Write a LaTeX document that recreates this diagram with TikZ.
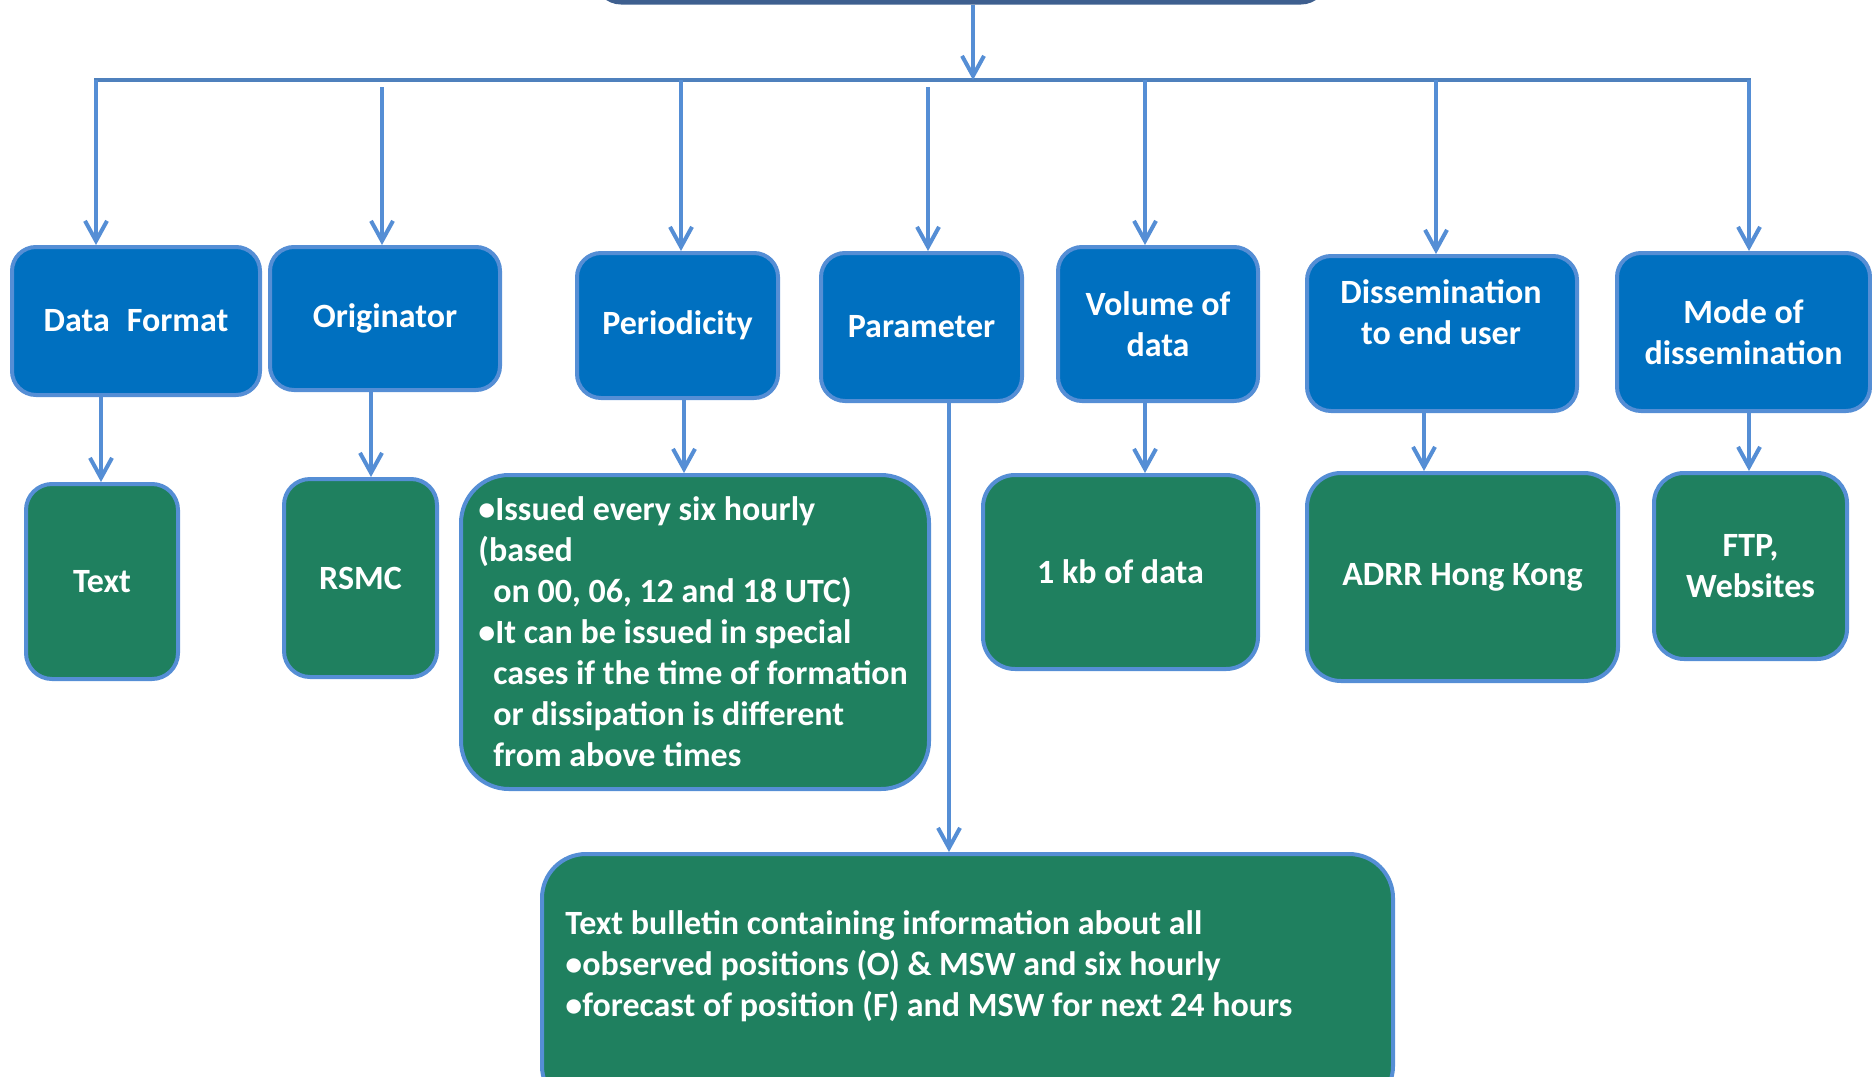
\documentclass[tikz,border=0pt]{standalone}
\usepackage{fontspec}
\setmainfont{Carlito}
\usetikzlibrary{arrows.meta}
\definecolor{boxblue}{HTML}{0070C0}
\definecolor{edgeblue}{HTML}{558ED5}
\definecolor{boxgreen}{HTML}{1F805F}
\definecolor{busblue}{HTML}{4F81BD}
\definecolor{topedge}{HTML}{3E5F8F}
\begin{document}
\begin{tikzpicture}[x=0.5pt,y=-0.5pt,
  bbox/.style={draw=edgeblue, line width=2pt, fill=boxblue, rounded corners=12pt, inner sep=0pt,
    text=white, font=\bfseries\fontsize{17pt}{20.5pt}\selectfont, align=center},
  gbox/.style={draw=edgeblue, line width=2pt, fill=boxgreen, rounded corners=#1, inner sep=0pt,
    text=white, font=\bfseries\fontsize{17pt}{20.5pt}\selectfont, align=center},
  gbox/.default=13pt,
  wtxt/.style={inner sep=0pt, text=white, font=\bfseries\fontsize{17pt}{20.5pt}\selectfont},
  arr/.style={draw=edgeblue, line width=2pt, -{Straight Barb[length=10pt,width=11pt]}},
  busline/.style={draw=busblue, line width=2.3pt, line cap=rect}
]
\path[use as bounding box, clip] (0,0) rectangle (1872,1076);

% top (cut) box
\node[draw=topedge, fill=boxblue, line width=2.5pt, rounded corners=12pt, minimum width=364pt, minimum height=60pt, inner sep=0pt] (top) at (961,-58) {};

% bus
\coordinate (b1) at (96,80);
\coordinate (b2) at (382,87);
\coordinate (b3) at (681,80);
\coordinate (b4) at (928,87);
\coordinate (b5) at (1145,80);
\coordinate (b6) at (1436,80);
\coordinate (b7) at (1749,80);
\coordinate (bc) at (973,80);
\draw[busline] (b1) -- (b7);

% first level boxes
\node[bbox, minimum width=124pt, minimum height=74pt] (df) at (136,321) {Data\hspace{0.5em}Format};
\node[bbox, minimum width=115pt, minimum height=71.5pt] (orig) at (385,318.5) {Originator};
\node[bbox, minimum width=100.5pt, minimum height=72.5pt] (per) at (677.5,325.5) {Periodicity};
\node[bbox, minimum width=100.5pt, minimum height=74pt] (par) at (921.5,327) {Parameter};
\node[bbox, minimum width=100pt, minimum height=77pt] (vol) at (1158,324) {Volume of\\data};
\node[bbox, minimum width=135pt, minimum height=77.5pt] (dis) at (1442,333.5) {};
\node[wtxt, align=center] (dist) at (1441,312) {Dissemination\\to end user};
\node[bbox, minimum width=126.5pt, minimum height=79pt] (mode) at (1743.5,332) {Mode of\\dissemination};

% second level boxes
\node[gbox, minimum width=76pt, minimum height=97.5pt] (txt) at (102,581.5) {Text};
\node[gbox, minimum width=76.5pt, minimum height=99pt] (rsmc) at (360.5,578) {RSMC};
\node[gbox=24pt, minimum width=234pt, minimum height=157pt] (perd) at (695,632) {};
\node[wtxt, anchor=north west, align=left] (perdt) at (478,496) {%
•Issued every six hourly\\
(based\\
\hspace*{7.5pt}on 00, 06, 12 and 18 UTC)\\
•It can be issued in special\\
\hspace*{7.5pt}cases if the time of formation\\
\hspace*{7.5pt}or dissipation is different\\
\hspace*{7.5pt}from above times};
\node[gbox=16pt, minimum width=137.5pt, minimum height=97pt] (vold) at (1120.5,572) {1 kb of data};
\node[gbox=17pt, minimum width=155.5pt, minimum height=104pt] (disd) at (1462.5,577) {ADRR Hong Kong};
\node[gbox=15pt, minimum width=96.5pt, minimum height=93pt] (moded) at (1750.5,566) {FTP,\\Websites};
\node[gbox=22pt, minimum width=425.5pt, minimum height=128pt] (pard) at (967.5,982) {};
\node[wtxt, anchor=north west, align=left] (pardt) at (565,910) {%
Text bulletin containing information about all\\
•observed positions (O) \& MSW and six hourly\\
•forecast of position (F) and MSW for next 24 hours};

% connectors from top
\draw[arr] (top.south -| bc) -- (bc);
\draw[arr] (b1) -- (b1 |- df.north);
\draw[arr] (b2) -- (b2 |- orig.north);
\draw[arr] (b3) -- (b3 |- per.north);
\draw[arr] (b4) -- (b4 |- par.north);
\draw[arr] (b5) -- (b5 |- vol.north);
\draw[arr] (b6) -- (b6 |- dis.north);
\draw[arr] (b7) -- (b7 |- mode.north);

% connectors to second level
\draw[arr] (101,0 |- df.south) -- (101,0 |- txt.north);
\draw[arr] (371,0 |- orig.south) -- (371,0 |- rsmc.north);
\draw[arr] (684,0 |- per.south) -- (684,0 |- perd.north);
\draw[arr] (1145,0 |- vol.south) -- (1145,0 |- vold.north);
\draw[arr] (1424,0 |- dis.south) -- (1424,0 |- disd.north);
\draw[arr] (1749,0 |- mode.south) -- (1749,0 |- moded.north);
\draw[arr] (949,0 |- par.south) -- (949,0 |- pard.north);
\end{tikzpicture}
\end{document}
